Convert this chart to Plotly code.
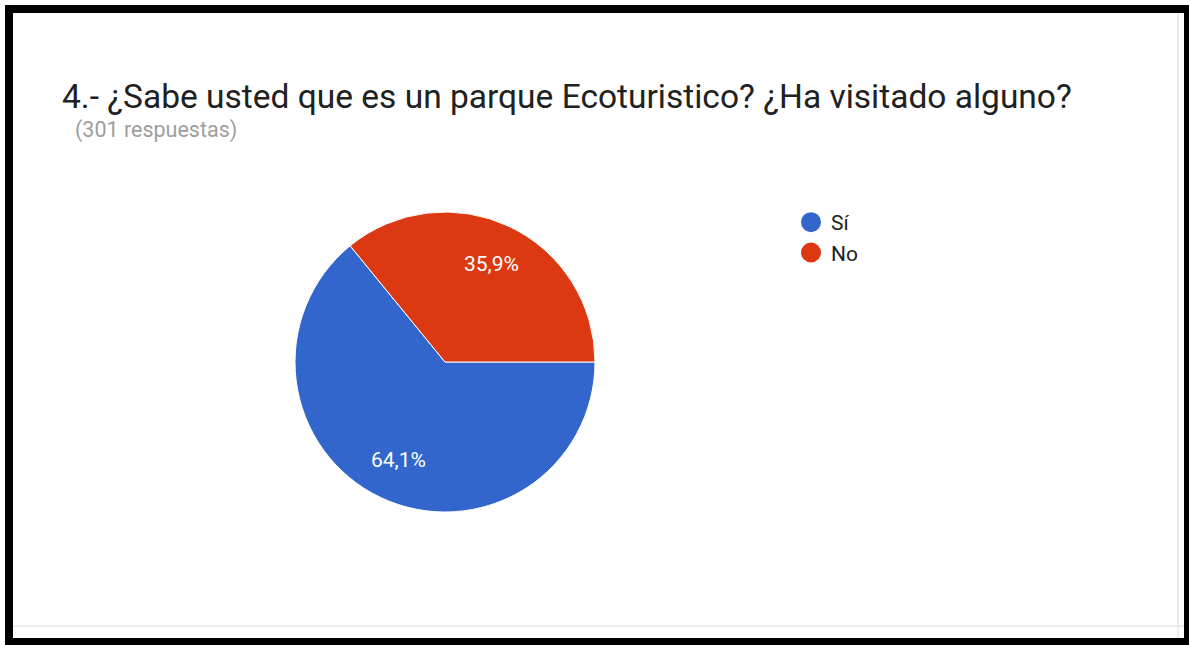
import math
import plotly.graph_objects as go

W, H = 1189, 645

labels = ["Sí", "No"]
values = [64.1, 35.9]
colors = ["#3366cc", "#dc3912"]
title_text = "4.- ¿Sabe usted que es un parque Ecoturistico? ¿Ha visitado alguno?"
subtitle_text = "(301 respuestas)"


def px(x):
    return x / W


def py(y):
    return 1 - y / H


# pie geometry (pixels)
CX, CY, R = 445, 362, 150
START_DEG = 0.0  # first slice starts at 3 o'clock, goes clockwise
LABEL_R = 0.72

fig = go.Figure()

fig.add_trace(go.Pie(
    labels=labels,
    values=values,
    sort=False,
    direction="clockwise",
    rotation=90,
    marker=dict(colors=colors, line=dict(color="white", width=1)),
    textinfo="none",
    showlegend=False,
    domain=dict(x=[px(CX - R), px(CX + R)], y=[py(CY + R), py(CY - R)]),
    hoverinfo="label+percent",
))

# percentage labels placed at each slice's mid-angle, computed from the values
total = sum(values)
annotations = []
acc = 0.0
for v in values:
    frac = v / total
    mid = START_DEG - (acc + frac / 2) * 360.0
    acc += frac
    ang = math.radians(mid)
    lx = CX + LABEL_R * R * math.cos(ang)
    ly = CY - LABEL_R * R * math.sin(ang)
    annotations.append(dict(
        text=("%.1f" % (frac * 100)).replace(".", ",") + "%",
        xref="paper", yref="paper", x=px(lx), y=py(ly),
        xanchor="center", yanchor="middle", showarrow=False,
        font=dict(family="Roboto", size=21, color="white"),
    ))

for i, (lab, col) in enumerate(zip(labels, colors)):
    fig.add_trace(go.Scatter(
        x=[None], y=[None], mode="markers", name=lab,
        marker=dict(symbol="circle", size=16, color=col, line=dict(color=col, width=4)),
        legendgroup="g%d" % i, showlegend=True,
    ))

shapes = [
    dict(type="line", xref="paper", yref="paper", x0=px(13), x1=px(1184), y0=py(626), y1=py(626),
         line=dict(color="#e6e6e6", width=1.5)),
    dict(type="line", xref="paper", yref="paper", x0=px(1178), x1=px(1178), y0=py(13), y1=py(638),
         line=dict(color="#e6e6e6", width=1.5)),
    dict(type="rect", xref="paper", yref="paper", x0=px(9), x1=px(1188), y0=py(642), y1=py(9),
         line=dict(color="black", width=8), fillcolor="rgba(0,0,0,0)"),
]

annotations += [
    dict(text=title_text, xref="paper", yref="paper", x=px(60), y=py(97), xanchor="left", yanchor="middle",
         showarrow=False, font=dict(family="Roboto", size=33.5, color="#212121")),
    dict(text=subtitle_text, xref="paper", yref="paper", x=px(73), y=py(130), xanchor="left", yanchor="middle",
         showarrow=False, font=dict(family="Roboto", size=21.5, color="#9e9e9e")),
]

fig.update_layout(
    width=W, height=H,
    margin=dict(l=0, r=0, t=0, b=0),
    paper_bgcolor="white",
    plot_bgcolor="white",
    separators=",.",
    xaxis=dict(visible=False, domain=[0, 1]),
    yaxis=dict(visible=False, domain=[0, 1]),
    shapes=shapes,
    annotations=annotations,
    legend=dict(x=px(791), y=py(202), xanchor="left", yanchor="top",
                font=dict(family="Roboto", size=21, color="#212121"),
                tracegroupgap=0, bgcolor="rgba(0,0,0,0)", itemsizing="trace"),
    showlegend=True,
)

fig.write_html(
    "out.html",
    config={"displayModeBar": False},
    post_script="document.body.style.margin='0';document.body.style.overflow='hidden';",
)
